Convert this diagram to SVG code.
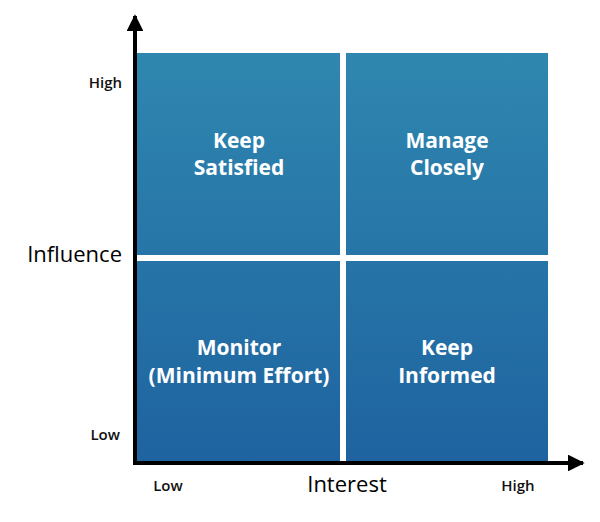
<svg xmlns="http://www.w3.org/2000/svg" width="600" height="522" viewBox="0 0 600 522">
<defs>
<linearGradient id="blue" x1="0" y1="0" x2="0" y2="1">
<stop offset="0" stop-color="#2f87af"/>
<stop offset="1" stop-color="#1e63a0"/>
</linearGradient>
<marker id="arrow" viewBox="0 0 10 10" refX="9" refY="5" markerWidth="4.2" markerHeight="4.2" markerUnits="strokeWidth" orient="auto">
<path d="M0,0 L10,5 L0,10 Z" fill="#000"/>
</marker>
</defs>
<style>
.q{font-family:"Open Sans","Liberation Sans",sans-serif;font-size:21px;font-weight:700;fill:#fff;text-anchor:middle}
.s{font-family:"Open Sans","Liberation Sans",sans-serif;font-size:15px;font-weight:600;fill:#111}
.a{font-family:"Open Sans","Liberation Sans",sans-serif;font-size:22px;font-weight:500;fill:#000}
.ax{stroke:#000;stroke-width:4;fill:none}
</style>
<rect x="137" y="53" width="411" height="409" fill="url(#blue)"/>
<rect x="340" y="53" width="6" height="409" fill="#fff"/>
<rect x="137" y="255" width="411" height="6" fill="#fff"/>
<g id="keep-satisfied"><text class="q" x="239" y="148">Keep</text><text class="q" x="239" y="175">Satisfied</text></g>
<g id="manage-closely"><text class="q" x="447" y="148">Manage</text><text class="q" x="447" y="175">Closely</text></g>
<g id="monitor"><text class="q" x="239" y="355">Monitor</text><text class="q" x="239" y="383">(Minimum Effort)</text></g>
<g id="keep-informed"><text class="q" x="447" y="355">Keep</text><text class="q" x="447" y="383">Informed</text></g>
<g id="connectors">
<line class="ax" x1="135" y1="465" x2="135" y2="16" marker-end="url(#arrow)"/>
<line class="ax" x1="133" y1="463" x2="583" y2="463" marker-end="url(#arrow)"/>
</g>
<g id="labels">
<text class="s" x="122" y="88" text-anchor="end">High</text>
<text class="s" x="120" y="440" text-anchor="end">Low</text>
<text class="a" x="122" y="262" text-anchor="end">Influence</text>
<text class="s" x="168" y="491" text-anchor="middle">Low</text>
<text class="a" x="347" y="492" text-anchor="middle">Interest</text>
<text class="s" x="518" y="491" text-anchor="middle">High</text>
</g>
</svg>
